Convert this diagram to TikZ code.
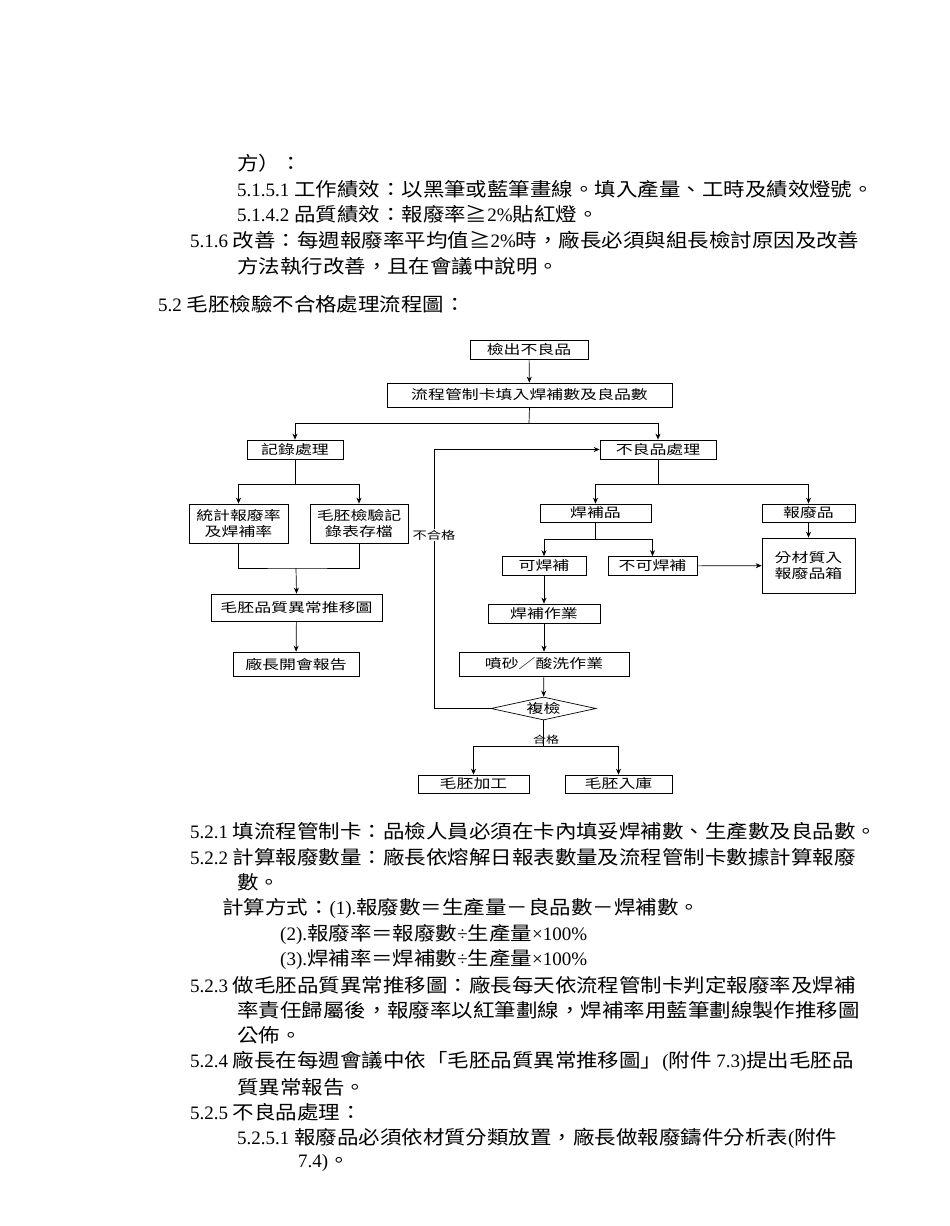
\documentclass[tikz,border=0pt]{standalone}
\usepackage{fontspec}
\setmainfont[FakeStretch=1.13]{Noto Sans CJK TC}
\newfontfamily\lat{Liberation Serif}
\newfontfamily\flow[FakeStretch=1.3]{Noto Sans CJK TC}
\usetikzlibrary{shapes.geometric,arrows.meta}
\begin{document}
\begin{tikzpicture}[x=1pt,y=-1pt,
  txt/.style={anchor=west,inner sep=0pt,font=\fontsize{19}{22}\selectfont},
  box/.style={draw,line width=0.7pt,inner sep=0pt,font=\flow\fontsize{13}{16}\selectfont,align=center},
  ln/.style={line width=0.7pt},
  arr/.style={ln,-{Stealth[length=6pt,width=5pt]}}]
\useasboundingbox[fill=white] (0,0) rectangle (950,1226);
% body text top
\node[txt] (t1) at (237,163) {方）：};
\node[txt] (t2) at (237,189) {{\lat 5.1.5.1 }工作績效：以黑筆或藍筆畫線。填入產量、工時及績效燈號。};
\node[txt] (t3) at (237,214) {{\lat 5.1.4.2 }品質績效：報廢率≧{\lat 2\%}貼紅燈。};
\node[txt] (t4) at (190,240) {{\lat 5.1.6 }改善：每週報廢率平均值≧{\lat 2\%}時，廠長必須與組長檢討原因及改善};
\node[txt] (t5) at (237,266) {方法執行改善，且在會議中說明。};
\node[txt] (t6) at (158,304) {{\lat 5.2 }毛胚檢驗不合格處理流程圖：};
% flowchart
\node[box,minimum width=118,minimum height=19] (a) at (529,350) {檢出不良品};
\node[box,minimum width=285,minimum height=24] (b) at (529.5,395) {流程管制卡填入焊補數及良品數};
\node[box,minimum width=96,minimum height=19] (c) at (295,449.5) {記錄處理};
\node[box,minimum width=116,minimum height=19] (d) at (658,449.5) {不良品處理};
\node[box,minimum width=99,minimum height=39] (e) at (238.5,523.5) {統計報廢率\\及焊補率};
\node[box,minimum width=98,minimum height=39] (f) at (359,523.5) {毛胚檢驗記\\錄表存檔};
\node[box,minimum width=171,minimum height=27] (g) at (296.5,607.5) {毛胚品質異常推移圖};
\node[box,minimum width=126,minimum height=24] (h) at (296,664) {廠長開會報告};
\node[box,minimum width=111,minimum height=18] (i) at (595.5,513) {焊補品};
\node[box,minimum width=93,minimum height=18] (j) at (808.5,513) {報廢品};
\node[box,minimum width=84,minimum height=19] (k) at (544,566) {可焊補};
\node[box,minimum width=89,minimum height=19] (l) at (652.5,566) {不可焊補};
\node[box,minimum width=93,minimum height=55] (m) at (808.5,565.5) {分材質入\\報廢品箱};
\node[box,minimum width=112,minimum height=19] (n) at (544,613.5) {焊補作業};
\node[box,minimum width=170,minimum height=24] (o) at (544,664) {噴砂／酸洗作業};
\node[draw,diamond,ln,aspect=4.5,inner sep=0pt,minimum width=105,minimum height=23,font=\flow\fontsize{13}{16}\selectfont] (p) at (543.5,708.5) {複檢};
\node[box,minimum width=111,minimum height=18] (q) at (473.5,784) {毛胚加工};
\node[box,minimum width=107,minimum height=18] (r) at (618.5,784) {毛胚入庫};
\coordinate (s1) at (529,423);
\coordinate (s2) at (295,484);
\coordinate (s3) at (658,484);
\coordinate (s4) at (296,568);
\coordinate (s5) at (595.5,539);
\coordinate (s6) at (543.5,746);
\coordinate (lp) at (434,708.5);
\coordinate (lq) at (434,449.5);
\draw[arr] (a) -- (b);
\draw[ln] (b.south) -- (s1);
\draw[arr] (s1) -| (c.north);
\draw[arr] (s1) -| (d.north);
\draw[ln] (c.south) -- (s2);
\draw[arr] (s2) -| (e.north);
\draw[arr] (s2) -| (f.north);
\draw[ln] (e.south) |- (s4) -| (f.south);
\draw[arr] (s4) -- (g.north);
\draw[arr] (g) -- (h);
\draw[ln] (d.south) -- (s3);
\draw[arr] (s3) -| (i.north);
\draw[arr] (s3) -| (j.north);
\draw[arr] (j) -- (m);
\draw[ln] (i.south) -- (s5);
\draw[arr] (s5) -| (k.north);
\draw[arr] (s5) -| (l.north);
\draw[arr] (l) -- (m);
\draw[arr] (k) -- (n);
\draw[arr] (n) -- (o);
\draw[arr] (o) -- (p);
\draw[arr] (p.west) -- (lp) -- (lq) -- (d.west);
\node[fill=white,inner sep=1pt,font=\flow\fontsize{11}{13}\selectfont] (ng) at (434,535) {不合格};
\draw[ln] (p.south) -- (s6);
\draw[arr] (s6) -| (q.north);
\draw[arr] (s6) -| (r.north);
\node[inner sep=0pt,font=\flow\fontsize{10}{12}\selectfont] (ok) at (546,740) {合格};
% body text bottom
\node[txt] (u1) at (190,831) {{\lat 5.2.1 }填流程管制卡：品檢人員必須在卡內填妥焊補數、生產數及良品數。};
\node[txt] (u2) at (190,857) {{\lat 5.2.2 }計算報廢數量：廠長依熔解日報表數量及流程管制卡數據計算報廢};
\node[txt] (u3) at (237,882) {數。};
\node[txt] (u4) at (222,908) {計算方式：{\lat (1).}報廢數＝生產量－良品數－焊補數。};
\node[txt] (u5) at (280,934) {{\lat (2).}報廢率＝報廢數{\lat ÷}生產量{\lat ×100\%}};
\node[txt] (u6) at (280,959) {{\lat (3).}焊補率＝焊補數{\lat ÷}生產量{\lat ×100\%}};
\node[txt] (u7) at (190,985) {{\lat 5.2.3 }做毛胚品質異常推移圖：廠長每天依流程管制卡判定報廢率及焊補};
\node[txt] (u8) at (237,1010) {率責任歸屬後，報廢率以紅筆劃線，焊補率用藍筆劃線製作推移圖};
\node[txt] (u9) at (237,1035) {公佈。};
\node[txt] (u10) at (190,1061) {{\lat 5.2.4 }廠長在每週會議中依「毛胚品質異常推移圖」{\lat (}附件{\lat~7.3)}提出毛胚品};
\node[txt] (u11) at (237,1087) {質異常報告。};
\node[txt] (u12) at (190,1112) {{\lat 5.2.5 }不良品處理：};
\node[txt] (u13) at (237,1138) {{\lat 5.2.5.1 }報廢品必須依材質分類放置，廠長做報廢鑄件分析表{\lat (}附件};
\node[txt] (u14) at (298,1163) {{\lat 7.4)}。};
\end{tikzpicture}
\end{document}
